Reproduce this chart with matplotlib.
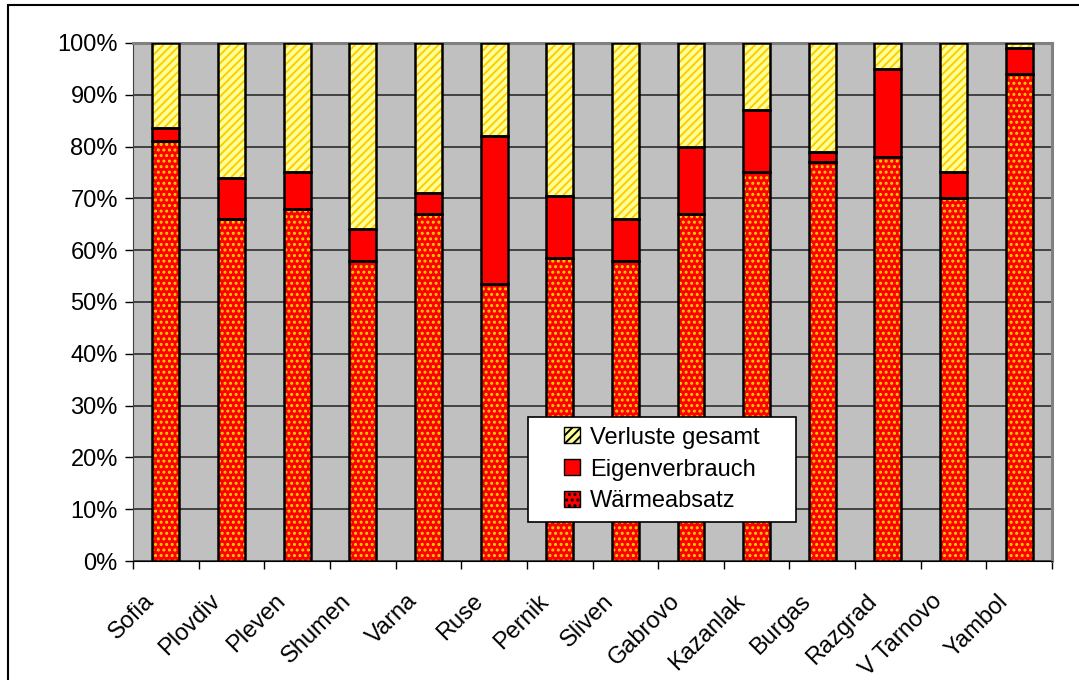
import matplotlib.pyplot as plt
import matplotlib.transforms as mtransforms
from matplotlib.patches import Patch, Rectangle
from matplotlib.ticker import PercentFormatter

plt.rcParams['font.family'] = ['Liberation Sans', 'DejaVu Sans']
plt.rcParams['hatch.linewidth'] = 1.4

cities = ['Sofia', 'Plovdiv', 'Pleven', 'Shumen', 'Varna', 'Ruse', 'Pernik',
          'Sliven', 'Gabrovo', 'Kazanlak', 'Burgas', 'Razgrad', 'V Tarnovo', 'Yambol']
waermeabsatz = [81, 66, 68, 58, 67, 53.5, 58.5, 58, 67, 75, 77, 78, 70, 94]
eigenverbrauch = [2.5, 8, 7, 6, 4, 28.5, 12, 8, 13, 12, 2, 17, 5, 5]
verluste = [16.5, 26, 25, 36, 29, 18, 29.5, 34, 20, 13, 21, 5, 25, 1]

fig = plt.figure(figsize=(10.79, 6.8), dpi=100)
ax = fig.add_axes([0.1233, 0.175, 0.8517, 0.7618])
ax.set_facecolor('#C0C0C0')

x = range(len(cities))
width = 0.41
bottom2 = [a + b for a, b in zip(waermeabsatz, eigenverbrauch)]

# patterned fills first (hatch takes the edge colour), black outlines on top
ax.bar(x, waermeabsatz, width, color='#FF0000', edgecolor='#FFD000',
       hatch='...', linewidth=0, zorder=3)
ax.bar(x, eigenverbrauch, width, bottom=waermeabsatz, color='#FF0000',
       linewidth=0, zorder=3)
ax.bar(x, verluste, width, bottom=bottom2, color='#FFFF99', edgecolor='#FFCC00',
       hatch='////', linewidth=0, zorder=3)
for vals, bot in [(waermeabsatz, 0), (eigenverbrauch, waermeabsatz), (verluste, bottom2)]:
    ax.bar(x, vals, width, bottom=bot, fill=False, edgecolor='black',
           linewidth=1.8, zorder=4)

ax.set_xlim(-0.5, len(cities) - 0.5)
ax.set_ylim(0, 100)
ax.set_yticks(range(0, 101, 10))
ax.yaxis.set_major_formatter(PercentFormatter(decimals=0))
ax.yaxis.grid(True, color='#202020', linewidth=1.1, zorder=1)
ax.set_axisbelow(True)

# category separators as ticks, labels centred in each slot
ax.set_xticks([i - 0.5 for i in range(len(cities) + 1)])
ax.set_xticklabels([])
ax.set_xticks(list(x), minor=True)
ax.set_xticklabels(cities, minor=True, rotation=45, ha='right', fontsize=17)
ax.tick_params(axis='x', which='minor', length=0, pad=21)
ax.tick_params(axis='x', which='major', length=6, width=1, direction='out')
ax.tick_params(axis='y', length=6, width=1, labelsize=17, pad=5)
shift = mtransforms.ScaledTranslation(-7 / 100, 0, fig.dpi_scale_trans)
for lbl in ax.get_xticklabels(minor=True):
    lbl.set_transform(lbl.get_transform() + shift)

for side in ['top', 'right']:
    ax.spines[side].set_color('#808080')
    ax.spines[side].set_linewidth(2.2)
ax.spines['left'].set_color('#404040')
ax.spines['bottom'].set_color('black')

# legend: white box with the entries centred inside it
ax.add_patch(Rectangle((0.43, 0.075), 0.2915, 0.203, transform=ax.transAxes,
                       facecolor='white', edgecolor='black', linewidth=1.2, zorder=5))
handles = [
    Patch(facecolor='#FFFF99', edgecolor='black', hatch='////', label='Verluste gesamt'),
    Patch(facecolor='#FF0000', edgecolor='black', label='Eigenverbrauch'),
    Patch(facecolor='#FF0000', edgecolor='black', hatch='...', label='Wärmeabsatz'),
]
leg = ax.legend(handles=handles, loc='center', bbox_to_anchor=(0.5757, 0.1765),
                fontsize=17, frameon=False, handlelength=0.65, handleheight=0.65,
                handletextpad=0.45, borderpad=0, labelspacing=0.42, borderaxespad=0)
leg.set_zorder(6)

# outer frame of the chart area
fig.patches.append(Rectangle((8 / 1079, -0.1), 1.2, 1.1 - 5 / 680, transform=fig.transFigure,
                             fill=False, edgecolor='black', linewidth=1.5))

fig.savefig('out.png', dpi=100)
